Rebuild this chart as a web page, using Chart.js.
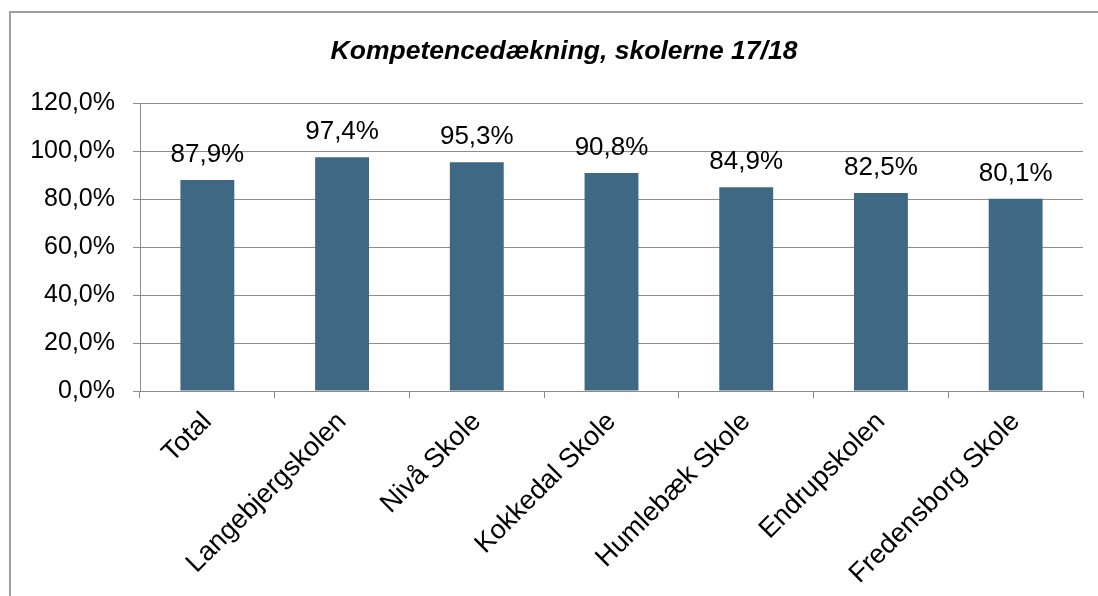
<!DOCTYPE html>
<html>
<head>
<meta charset="utf-8">
<script src="https://cdn.jsdelivr.net/npm/chart.js@4"></script>
<style>
  html, body { margin: 0; padding: 0; background: #fff; overflow: hidden; }
  #frame {
    position: absolute; left: 9px; top: 11px;
    width: 1200px; height: 800px;
    border: 2px solid #a0a0a0;
  }
  #wrap { position: absolute; left: 0; top: 0; width: 1098px; height: 596px; }
</style>
</head>
<body>
<div id="frame"></div>
<div id="wrap"><canvas id="kompChart"></canvas></div>
<script>
// chart data
const schools = ['Total', 'Langebjergskolen', 'Nivå Skole', 'Kokkedal Skole', 'Humlebæk Skole', 'Endrupskolen', 'Fredensborg Skole'];
const coverage = [87.9, 97.4, 95.3, 90.8, 84.9, 82.5, 80.1];
const yTicks = [0, 20, 40, 60, 80, 100, 120];
const chartTitle = 'Kompetencedækning, skolerne 17/18';

const barColor = '#3e6884';
const gridColor = '#8c8c8c';
const fontFamily = "'Liberation Sans', Arial, sans-serif";

function pct(v) {
  return v.toFixed(1).replace('.', ',') + '%';
}

// values over the bars + the title (the title sits a bit right of canvas centre in the original)
const valueLabels = {
  id: 'valueLabels',
  afterDatasetsDraw(chart) {
    const ctx = chart.ctx;
    const meta = chart.getDatasetMeta(0);
    ctx.save();
    ctx.font = '26px ' + fontFamily;
    ctx.fillStyle = '#000';
    ctx.textAlign = 'center';
    ctx.textBaseline = 'middle';
    meta.data.forEach((bar, i) => {
      ctx.fillText(pct(coverage[i]), bar.x, bar.y - 25);
    });

    ctx.font = 'italic bold 26.5px ' + fontFamily;
    ctx.fillText(chartTitle, 564, 52);
    ctx.restore();
  }
};

const ctx = document.getElementById('kompChart').getContext('2d');
new Chart(ctx, {
  type: 'bar',
  data: {
    labels: schools,
    datasets: [{
      data: coverage,
      backgroundColor: barColor,
      borderWidth: 0,
      barPercentage: 0.4,
      categoryPercentage: 1
    }]
  },
  options: {
    responsive: true,
    maintainAspectRatio: false,
    animation: false,
    layout: { padding: { left: 0, right: 15, top: 103, bottom: 0 } },
    plugins: {
      legend: { display: false },
      tooltip: { enabled: false },
      title: { display: false }
    },
    scales: {
      x: {
        grid: {
          offset: true,
          drawOnChartArea: false,
          drawTicks: true,
          tickLength: 7,
          color: gridColor
        },
        border: { color: gridColor, width: 1 },
        ticks: {
          color: '#000',
          font: { family: fontFamily, size: 27 },
          maxRotation: 45,
          minRotation: 45,
          padding: 8,
          autoSkip: false
        },
        afterFit(scale) { scale.height = 205; }
      },
      y: {
        min: 0,
        max: 120,
        afterBuildTicks(scale) { scale.ticks = yTicks.map(v => ({ value: v })); },
        grid: {
          color: gridColor,
          lineWidth: 1,
          drawTicks: true,
          tickLength: 7
        },
        border: { color: gridColor, width: 1 },
        ticks: {
          color: '#000',
          font: { family: fontFamily, size: 25 },
          padding: 18,
          callback: (v) => pct(v)
        },
        afterFit(scale) { scale.width = 140; }
      }
    }
  },
  plugins: [valueLabels]
});
</script>
</body>
</html>
